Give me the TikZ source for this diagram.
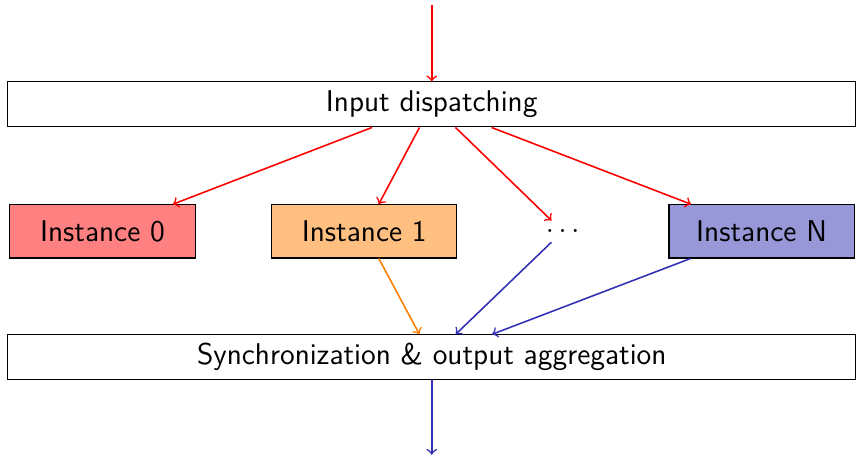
\documentclass[tikz,border=0pt]{standalone}
\usepackage{tikz}
\definecolor{instblue}{RGB}{50,50,180}

\begin{document}
\begin{tikzpicture}[
    every node/.style={font=\sffamily\fontsize{11.4}{13.5}\selectfont},
    stage/.style={draw, minimum width=11.31cm, minimum height=0.6cm, inner sep=0pt},
    inst/.style={draw, minimum width=2.47cm, minimum height=0.71cm, inner sep=0pt},
    flow/.style={->, semithick},
  ]
  \useasboundingbox (0,0) rectangle (11.42,-6.08);
  % dispatching and aggregation stages
  \node[stage] (disp) at (5.76,-1.393) {Input dispatching};
  \node[stage] (sync) at (5.76,-4.767) {Synchronization \& output aggregation};
  % parallel instances
  \node[inst,fill=red!50]      (i0) at (1.367,-3.087) {Instance 0};
  \node[inst,fill=orange!50]   (i1) at (4.86,-3.087)  {Instance 1};
  \node                     (idots) at (7.507,-3.087) {$\ldots$};
  \node[inst,fill=instblue!50] (iN) at (10.16,-3.087) {Instance N};
  \coordinate (in)  at (5.76,-0.067);
  \coordinate (out) at (5.76,-6.067);
  % data flow
  \draw[flow,red] (in) -- (disp);
  \foreach \n in {i0,i1,idots,iN} { \draw[flow,red] (disp) -- (\n); }
  \draw[flow,orange] (i1) -- (sync);
  \draw[flow,instblue] (idots) -- (sync);
  \draw[flow,instblue] (iN) -- (sync);
  \draw[flow,instblue] (sync) -- (out);
\end{tikzpicture}
\end{document}
